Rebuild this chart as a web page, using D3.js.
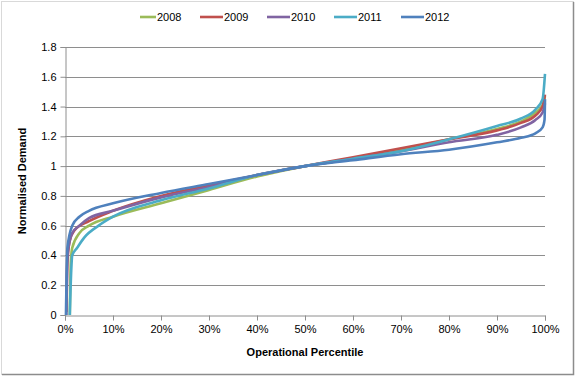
<!DOCTYPE html>
<html>
<head>
<meta charset="utf-8">
<script src="https://cdn.jsdelivr.net/npm/d3@7"></script>
<style>
  body { margin: 0; background: #fff; }
  svg { display: block; font-family: "Liberation Sans", "DejaVu Sans", sans-serif; }
</style>
</head>
<body>
<div id="chart"></div>
<script>
// percentile (%) at which each demand value was read
const years = ['2008', '2009', '2010', '2011', '2012'];
const colors = ['#9bbb59', '#c0504d', '#8064a2', '#4bacc6', '#4f81bd'];

const pct2008 = [1.0, 1.2, 1.5, 3, 5, 10, 20, 30, 40, 50, 60, 70, 80, 90, 95, 98, 99.5, 100];
const val2008 = [0.0, 0.35, 0.45, 0.55, 0.60, 0.66, 0.75, 0.84, 0.93, 1.0, 1.05, 1.11, 1.18, 1.25, 1.30, 1.36, 1.41, 1.47];

const pct2009 = [0.3, 0.5, 1.0, 2, 5, 10, 20, 30, 40, 50, 60, 70, 80, 90, 95, 98, 99.5, 100];
const val2009 = [0.02, 0.35, 0.50, 0.57, 0.63, 0.70, 0.80, 0.87, 0.94, 1.0, 1.06, 1.12, 1.18, 1.24, 1.29, 1.34, 1.40, 1.48];

const pct2010 = [0.3, 0.5, 1.5, 3, 5, 10, 20, 30, 40, 50, 60, 70, 80, 90, 95, 98, 99.5, 100];
const val2010 = [0.0, 0.40, 0.55, 0.60, 0.65, 0.70, 0.79, 0.86, 0.94, 1.0, 1.05, 1.10, 1.16, 1.21, 1.26, 1.31, 1.36, 1.42];

const pct2011 = [1.0, 1.3, 1.5, 2.5, 4, 7, 10, 20, 30, 40, 50, 60, 70, 80, 90, 95, 98, 99.5, 100];
const val2011 = [0.0, 0.30, 0.40, 0.45, 0.52, 0.60, 0.66, 0.77, 0.85, 0.94, 1.0, 1.05, 1.10, 1.18, 1.27, 1.32, 1.38, 1.45, 1.62];

const pct2012 = [0.2, 0.5, 1.5, 3, 5, 10, 20, 30, 40, 50, 60, 70, 80, 90, 95, 98, 99.5, 99.9, 100];
const val2012 = [0.0, 0.45, 0.60, 0.66, 0.70, 0.75, 0.82, 0.88, 0.94, 1.0, 1.04, 1.08, 1.11, 1.16, 1.19, 1.22, 1.26, 1.31, 1.45];

const xTicks = [0, 10, 20, 30, 40, 50, 60, 70, 80, 90, 100];
const yTicks = [0, 0.2, 0.4, 0.6, 0.8, 1.0, 1.2, 1.4, 1.6, 1.8];

const series = [
    {year: '2008', pct: pct2008, val: val2008},
    {year: '2009', pct: pct2009, val: val2009},
    {year: '2010', pct: pct2010, val: val2010},
    {year: '2011', pct: pct2011, val: val2011},
    {year: '2012', pct: pct2012, val: val2012}
];

const W = 576, H = 377;
const margin = {top: 47, right: 31, bottom: 62, left: 65};
const width = W - margin.left - margin.right;
const height = H - margin.top - margin.bottom;

const root = d3.select('#chart').append('svg')
    .attr('width', W)
    .attr('height', H);

// chart frame
root.append('rect')
    .attr('x', 1.5).attr('y', 1.5)
    .attr('width', W - 4).attr('height', H - 4)
    .attr('fill', '#fff')
    .attr('stroke', '#d9d9d9');
root.append('path')
    .attr('d', `M${W - 2.5},2 V${H - 2.5} H2`)
    .attr('fill', 'none')
    .attr('stroke', '#8c8c8c')
    .attr('stroke-width', 1.5);

const svg = root.append('g')
    .attr('transform', `translate(${margin.left},${margin.top})`);

const x = d3.scaleLinear().domain([0, 100]).range([0, width]);
const y = d3.scaleLinear().domain([0, 1.8]).range([height, 0]);
const color = d3.scaleOrdinal().domain(years).range(colors);

// gridlines
svg.append('g')
    .selectAll('line')
    .data(yTicks.filter(d => d > 0))
    .enter().append('line')
    .attr('x1', 0).attr('x2', width)
    .attr('y1', d => Math.round(y(d)) + 0.5)
    .attr('y2', d => Math.round(y(d)) + 0.5)
    .attr('stroke', '#8e8e8e')
    .attr('stroke-width', 1);

// axes
const yAxis = svg.append('g')
    .attr('transform', 'translate(0.5,0)')
    .call(d3.axisLeft(y).tickValues(yTicks).tickSize(5).tickPadding(4)
        .tickFormat(d => d3.format('~g')(d)));
const xAxis = svg.append('g')
    .attr('transform', `translate(0,${height + 0.5})`)
    .call(d3.axisBottom(x).tickValues(xTicks).tickSize(5).tickPadding(5)
        .tickFormat(d => d + '%'));

[xAxis, yAxis].forEach(a => {
    a.select('.domain').attr('stroke', '#8e8e8e');
    a.selectAll('.tick line').attr('stroke', '#8e8e8e');
    a.selectAll('.tick text')
        .attr('fill', '#000')
        .style('font-size', '11px');
});

// lines
const line = d3.line()
    .x(d => x(d[0]))
    .y(d => y(d[1]))
    .curve(d3.curveMonotoneX);

svg.selectAll('.series')
    .data(series)
    .enter().append('path')
    .attr('class', 'series')
    .attr('d', s => line(s.pct.map((p, i) => [p, s.val[i]])))
    .attr('fill', 'none')
    .attr('stroke', s => color(s.year))
    .attr('stroke-width', 2.6)
    .attr('stroke-linejoin', 'round');

// axis titles
svg.append('text')
    .attr('x', width / 2)
    .attr('y', height + 41)
    .attr('text-anchor', 'middle')
    .style('font-size', '11px')
    .style('font-weight', 'bold')
    .text('Operational Percentile');

svg.append('text')
    .attr('transform', 'rotate(-90)')
    .attr('x', -height / 2)
    .attr('y', -39)
    .attr('text-anchor', 'middle')
    .style('font-size', '11px')
    .style('font-weight', 'bold')
    .text('Normalised Demand');

// legend
const legend = root.append('g')
    .attr('transform', 'translate(140,17)');

const item = legend.selectAll('g')
    .data(years)
    .enter().append('g')
    .attr('transform', (d, i) => `translate(${i * 67},0)`);

item.append('line')
    .attr('x1', (d, i) => i === 0 ? 0 : -7).attr('x2', 16)
    .attr('y1', 0).attr('y2', 0)
    .attr('stroke', d => color(d))
    .attr('stroke-width', 2.6);

item.append('text')
    .attr('x', 17)
    .attr('y', 4)
    .style('font-size', '11px')
    .text(d => d);
</script>
</body>
</html>
